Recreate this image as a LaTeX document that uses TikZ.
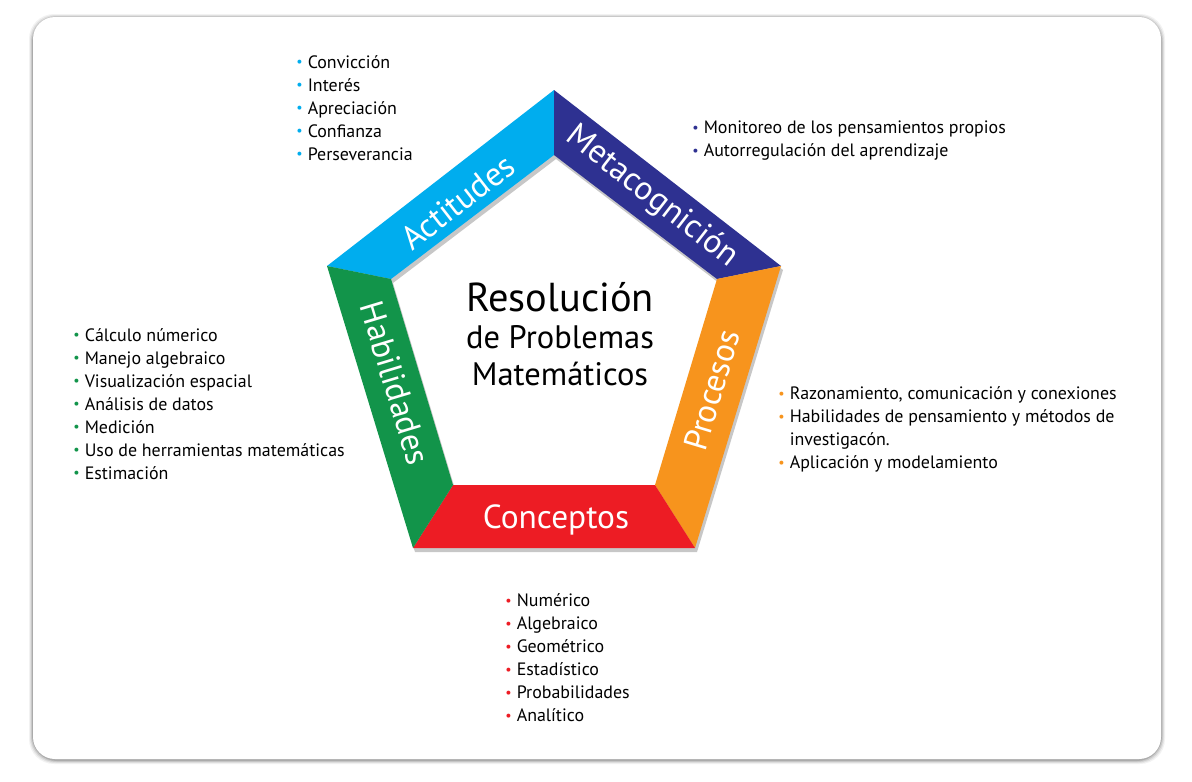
\documentclass[tikz,border=0pt]{standalone}
\usepackage{fontspec}
\setmainfont{PT Sans}
\usepackage{xcolor}
\usetikzlibrary{positioning}

\definecolor{actcol}{HTML}{00ADEE}
\definecolor{metcol}{HTML}{2E3191}
\definecolor{procol}{HTML}{F7941D}
\definecolor{concol}{HTML}{ED1C24}
\definecolor{habcol}{HTML}{12944A}

\newcommand{\bul}[1]{\makebox[6.5pt][l]{\textcolor{#1}{\fontsize{8}{8}\selectfont\raisebox{0.2ex}{\textbullet}}}}
\newcommand{\bulind}{\hspace*{6.5pt}}

\begin{document}
\begin{tikzpicture}[
  x=0.02cm, y=-0.02cm,
  lbl/.style={text=white, font=\fontsize{19}{22}\selectfont, inner sep=0},
  lst/.style={anchor=west, align=left, inner sep=0, font=\fontsize{10.2}{13.1}\selectfont},
  ttl/.style={anchor=base, inner sep=0, font=\fontsize{18.5}{20}\selectfont}
]
\useasboundingbox (0,0) rectangle (1192,781);
\fill[white] (0,0) rectangle (1192,781);

% card with soft shadow
\foreach \d/\o in {4/0.05,3/0.07,2/0.10,1/0.15}
  \fill[black, opacity=\o, rounded corners=0.5cm] (33-\d,17-\d+1) rectangle (1161+\d,759+\d+1);
\fill[white, rounded corners=0.44cm] (33,17) rectangle (1161,759);

% pentagon corners
\coordinate (o1) at (554,90);
\coordinate (o2) at (781,266);
\coordinate (o3) at (695,548);
\coordinate (o4) at (413,548);
\coordinate (o5) at (327,266);
\coordinate (i1) at (554,155);
\coordinate (i2) at (717,279);
\coordinate (i3) at (655,485);
\coordinate (i4) at (453,485);
\coordinate (i5) at (391,279);

% shadow of the ring
\fill[black, opacity=0.22, even odd rule]
  ([shift={(2,4)}]o1) -- ([shift={(2,4)}]o2) -- ([shift={(2,4)}]o3) -- ([shift={(2,4)}]o4) -- ([shift={(2,4)}]o5) -- cycle
  ([shift={(2,4)}]i1) -- ([shift={(2,4)}]i2) -- ([shift={(2,4)}]i3) -- ([shift={(2,4)}]i4) -- ([shift={(2,4)}]i5) -- cycle;

% ring segments
\fill[actcol] (o5) -- (o1) -- (i1) -- (i5) -- cycle;
\fill[metcol] (o1) -- (o2) -- (i2) -- (i1) -- cycle;
\fill[procol] (o2) -- (o3) -- (i3) -- (i2) -- cycle;
\fill[concol] (o3) -- (o4) -- (i4) -- (i3) -- cycle;
\fill[habcol] (o4) -- (o5) -- (i5) -- (i4) -- cycle;

% segment labels
\node[lbl, rotate=37.8] (act) at (458,202) {Actitudes};
\node[lbl, rotate=-37.8] (met) at (652,197) {Metacognición};
\node[lbl, rotate=73.2] (pro) at (712,390) {Procesos};
\node[lbl] (con) at (556,520) {Conceptos};
\node[lbl, rotate=-73.2] (hab) at (395,383) {Habilidades};

% title
\node[ttl, font=\fontsize{23}{24}\selectfont] (title1) at (560,311) {Resolución};
\node[ttl] (title2) at (560,348) {de Problemas};
\node[ttl] (title3) at (560,385) {Matemáticos};

% lists
\node[lst] (actlist) at (296,108) {\bul{actcol}Convicción\\\bul{actcol}Interés\\\bul{actcol}Apreciación\\\bul{actcol}Confianza\\\bul{actcol}Perseverancia};
\node[lst] (metlist) at (692,140.5) {\bul{metcol}Monitoreo de los pensamientos propios\\\bul{metcol}Autorregulación del aprendizaje};
\node[lst] (hablist) at (73,404) {\bul{habcol}Cálculo númerico\\\bul{habcol}Manejo algebraico\\\bul{habcol}Visualización espacial\\\bul{habcol}Análisis de datos\\\bul{habcol}Medición\\\bul{habcol}Uso de herramientas matemáticas\\\bul{habcol}Estimación};
\node[lst] (prolist) at (778,429.5) {\bul{procol}Razonamiento, comunicación y conexiones\\\bul{procol}Habilidades de pensamiento y métodos de\\\bulind investigacón.\\\bul{procol}Aplicación y modelamiento};
\node[lst] (conlist) at (505,658) {\bul{concol}Numérico\\\bul{concol}Algebraico\\\bul{concol}Geométrico\\\bul{concol}Estadístico\\\bul{concol}Probabilidades\\\bul{concol}Analítico};
\end{tikzpicture}
\end{document}
